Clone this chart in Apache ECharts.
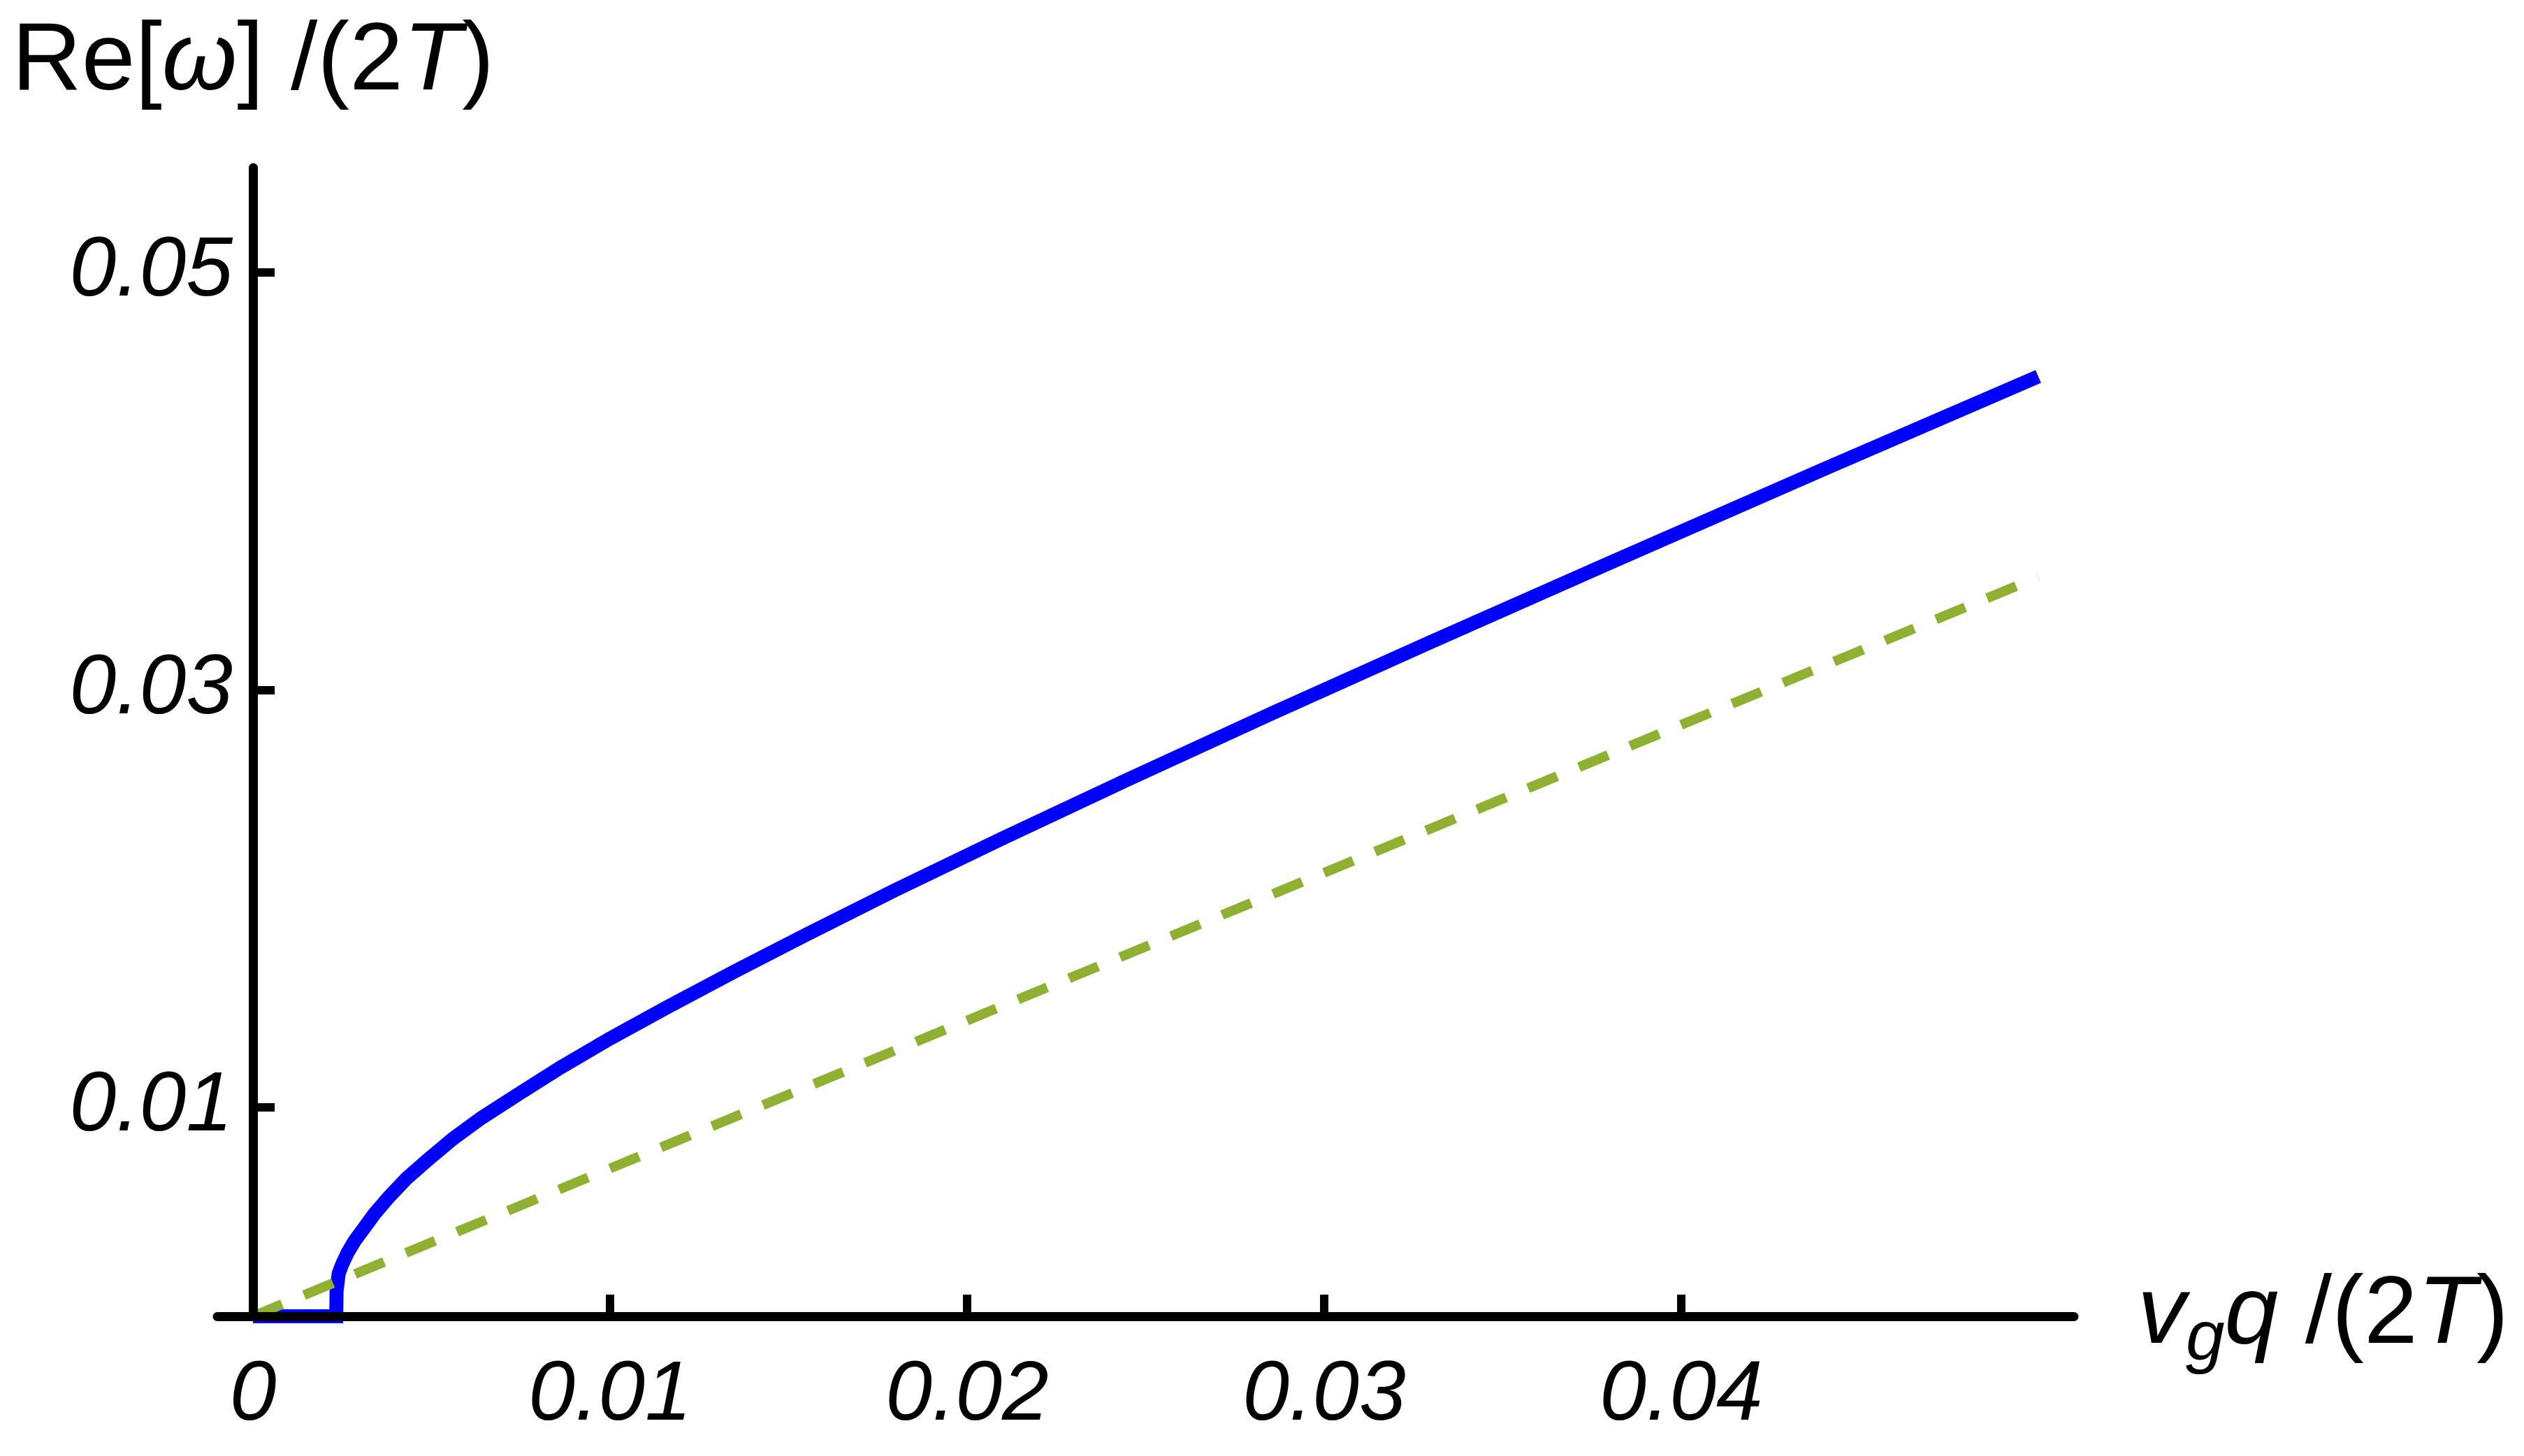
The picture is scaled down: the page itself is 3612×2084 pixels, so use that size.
<!DOCTYPE html>
<html>
<head>
<meta charset="utf-8">
<script src="https://cdn.jsdelivr.net/npm/echarts@6/dist/echarts.min.js"></script>
<style>
    html, body { margin: 0; padding: 0; background: #fff; }
    #main { width: 3612px; height: 2084px; }
</style>
</head>
<body>
<div id="main"></div>
<script>
    // blue curve: Re[w]/(2T) vs vg q/(2T)
    const curveX = [0, 0.00233, 0.00234, 0.00240, 0.00250, 0.00265, 0.00285, 0.0031, 0.0034, 0.0038,
        0.0043, 0.0049, 0.0056, 0.0064, 0.0074, 0.0086, 0.0100, 0.0116, 0.0135, 0.0155,
        0.0180, 0.0210, 0.0245, 0.0285, 0.0330, 0.0380, 0.0440, 0.0500];
    const curveY = [0, 0, 0.0012, 0.00205, 0.00250, 0.00305, 0.00362, 0.00420, 0.00490, 0.00570,
        0.00660, 0.00750, 0.00850, 0.00950, 0.01060, 0.01190, 0.01330, 0.01480, 0.01652, 0.01828,
        0.02042, 0.02289, 0.02570, 0.02884, 0.03230, 0.03608, 0.04057, 0.04500];

    // green dashed straight line
    const refX = [0, 0.0500];
    const refY = [0, 0.0354];

    const xLabelValues = [0, 0.01, 0.02, 0.03, 0.04];
    const xTickValues = [0.01, 0.02, 0.03, 0.04];
    const yTickValues = [0.01, 0.03, 0.05];

    const zip = (xs, ys) => xs.map((x, i) => [x, ys[i]]);

    const font = '"Liberation Sans", Arial, sans-serif';
    const black = '#000';

    const chart = echarts.init(document.getElementById('main'), null, { renderer: 'canvas' });

    const labelStyle = {
        fontSize: 120,
        fontStyle: 'italic',
        fontFamily: font,
        color: black
    };

    chart.setOption({
        animation: false,
        backgroundColor: '#fff',
        grid: {
            left: 311,
            right: 644,
            top: 240,
            bottom: 200,
            containLabel: false,
            outerBoundsMode: 'none'
        },
        xAxis: {
            type: 'value',
            min: -0.001,
            max: 0.051,
            z: 3,
            splitLine: { show: false },
            axisLine: { onZero: true, lineStyle: { color: black, width: 13 } },
            axisTick: {
                inside: true,
                length: 31,
                customValues: xTickValues,
                lineStyle: { color: black, width: 12 }
            },
            axisLabel: Object.assign({ customValues: xLabelValues, margin: 55 }, labelStyle),
            name: '{i|v}{s|g}{i|q}{r| /(2}{i|T}{r|)}',
            nameLocation: 'end',
            nameGap: 91,
            nameTextStyle: {
                rich: {
                    r: { fontSize: 138, fontFamily: font, color: black, lineHeight: 168 },
                    i: { fontSize: 138, fontFamily: font, fontStyle: 'italic', color: black, lineHeight: 168 },
                    s: { fontSize: 100, fontFamily: font, fontStyle: 'italic', color: black,
                        lineHeight: 100, verticalAlign: 'bottom' }
                }
            }
        },
        yAxis: {
            type: 'value',
            min: 0,
            max: 0.055,
            z: 3,
            splitLine: { show: false },
            axisLine: { onZero: true, lineStyle: { color: black, width: 13 } },
            axisTick: {
                inside: true,
                length: 31,
                customValues: yTickValues,
                lineStyle: { color: black, width: 12 }
            },
            // labels sit at the grid's left edge, not at the zero line, so pull them in
            axisLabel: Object.assign({ customValues: yTickValues, margin: -22 }, labelStyle),
            name: '{r|Re[}{i|ω}{r|] /(2}{i|T}{r|)}',
            nameLocation: 'end',
            nameGap: 81,
            nameTextStyle: {
                rich: {
                    r: { fontSize: 138, fontFamily: font, color: black },
                    i: { fontSize: 138, fontFamily: font, fontStyle: 'italic', color: black }
                }
            }
        },
        series: [
            {
                type: 'line',
                data: zip(curveX, curveY),
                symbol: 'none',
                lineStyle: { color: '#0000ff', width: 20, join: 'miter', cap: 'butt' },
                z: 2
            },
            {
                type: 'line',
                data: zip(refX, refY),
                symbol: 'none',
                lineStyle: { color: '#8fb032', width: 14, type: [45, 34], cap: 'butt' },
                z: 2
            }
        ]
    });
</script>
</body>
</html>
